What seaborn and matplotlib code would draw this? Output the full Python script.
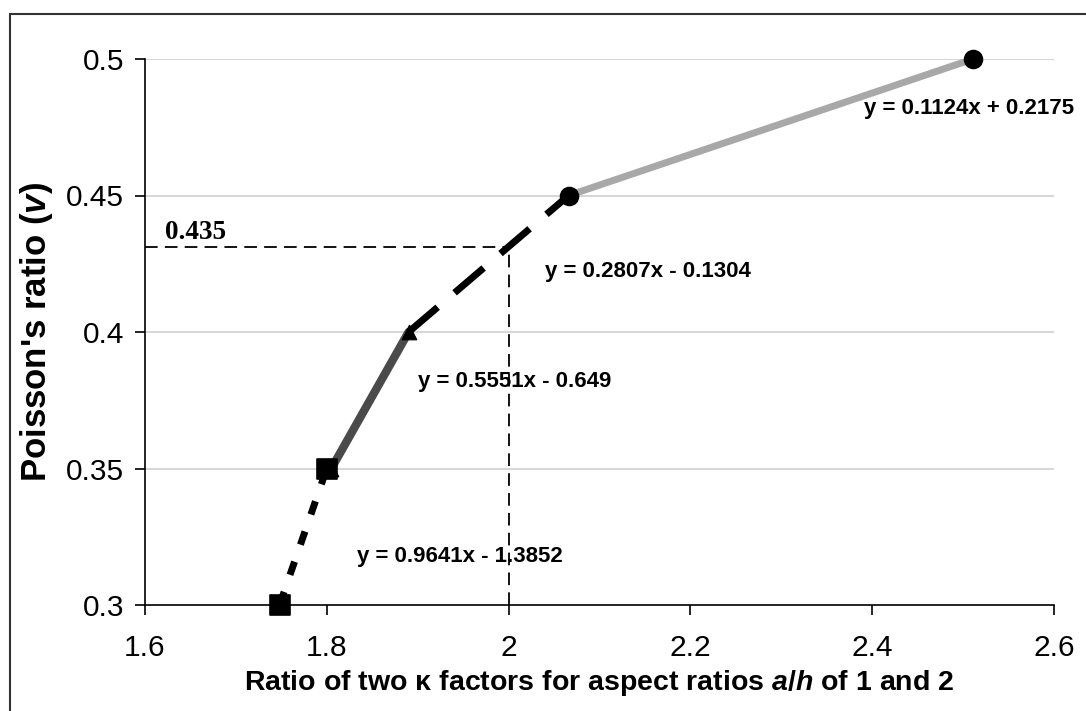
import matplotlib
matplotlib.use("Agg")
import matplotlib.pyplot as plt
import seaborn as sns
from matplotlib.patches import Rectangle

# ---- data ----
sq_x = [1.748, 1.800]
sq_y = [0.30, 0.35]
tri_x = [1.805, 1.890]
tri_y = [0.35, 0.40]
dash_x = [1.890, 2.066]
dash_y = [0.40, 0.45]
circ_x = [2.066, 2.511]
circ_y = [0.45, 0.50]

equations = ["y = 0.1124x + 0.2175", "y = 0.2807x - 0.1304",
             "y = 0.5551x - 0.649", "y = 0.9641x - 1.3852"]
eq_x = [2.391, 2.040, 1.900, 1.833]
eq_y = [0.482, 0.422, 0.382, 0.3176]

ref_x = 2.0
ref_y = 0.4311
ref_label = "0.435"

x_ticks = [1.6, 1.8, 2.0, 2.2, 2.4, 2.6]
x_tick_labels = ["1.6", "1.8", "2", "2.2", "2.4", "2.6"]
y_ticks = [0.3, 0.35, 0.4, 0.45, 0.5]
y_tick_labels = ["0.3", "0.35", "0.4", "0.45", "0.5"]

# ---- style ----
sns.set_style("white")
plt.rcParams['font.family'] = ['Liberation Sans', 'DejaVu Sans']
plt.rcParams['mathtext.fontset'] = 'custom'
plt.rcParams['mathtext.it'] = 'Liberation Sans:italic:bold'
plt.rcParams['mathtext.rm'] = 'Liberation Sans:bold'
plt.rcParams['mathtext.bf'] = 'Liberation Sans:bold'
for k in ['text.color', 'axes.labelcolor', 'xtick.color', 'ytick.color']:
    plt.rcParams[k] = 'black'

fig = plt.figure(figsize=(10.86, 7.11), dpi=100)
ax = fig.add_axes([145/1086, 1-605/711, (1054-145)/1086, (605-59)/711])

# gridlines
for yt in y_ticks[1:]:
    ax.axhline(yt, color="#cfcfcf", lw=1.2, zorder=0)

# reference dashed lines
sns.lineplot(x=[1.6, ref_x], y=[ref_y, ref_y], ax=ax, color="black",
             linewidth=1.3, linestyle=(0, (7, 4)), estimator=None,
             sort=False, zorder=2)
sns.lineplot(x=[ref_x, ref_x], y=[0.3, ref_y], ax=ax, color="black",
             linewidth=1.3, linestyle=(0, (7, 4)), estimator=None,
             sort=False, zorder=2)

# series lines
sns.lineplot(x=sq_x, y=sq_y, ax=ax, color="black", linewidth=5,
             linestyle=(0, (2, 2.6)), estimator=None, zorder=3)
sns.lineplot(x=tri_x, y=tri_y, ax=ax, color="#4a4a4a", linewidth=6,
             estimator=None, zorder=3)
sns.lineplot(x=dash_x, y=dash_y, ax=ax, color="black", linewidth=5,
             linestyle=(0, (5.5, 3.2)), estimator=None, zorder=3)
sns.lineplot(x=circ_x, y=circ_y, ax=ax, color="#a8a8a8", linewidth=5,
             estimator=None, zorder=3)

# markers
sns.scatterplot(x=sq_x, y=sq_y, ax=ax, marker="s", s=220, color="black",
                edgecolor="black", zorder=4, clip_on=False)
sns.scatterplot(x=tri_x, y=tri_y, ax=ax, marker="^", s=110, color="black",
                edgecolor="black", zorder=4, clip_on=False)
sns.scatterplot(x=circ_x, y=circ_y, ax=ax, marker="o", s=170, color="black",
                edgecolor="black", zorder=4, clip_on=False)

# equation labels
for t, xx, yy in zip(equations, eq_x, eq_y):
    ax.text(xx, yy, t, fontsize=16, fontweight="bold", ha="left",
            va="center", color="black", zorder=5)

ax.text(1.622, 0.4366, ref_label, fontsize=19.5, fontweight="bold",
        family="Liberation Serif", ha="left", va="center", zorder=5)

ax.set_xlim(1.6, 2.6)
ax.set_ylim(0.3, 0.5)
ax.set_xticks(x_ticks)
ax.set_xticklabels(x_tick_labels, fontsize=21.5)
ax.set_yticks(y_ticks)
ax.set_yticklabels(y_tick_labels, fontsize=21.5)
ax.tick_params(axis="both", direction="out", length=7, width=1.2,
               color="black", labelcolor="black", left=True, bottom=True)
ax.tick_params(axis="x", pad=14)
ax.tick_params(axis="y", pad=8)

for s in ["top", "right"]:
    ax.spines[s].set_visible(False)
for s in ["left", "bottom"]:
    ax.spines[s].set_color("black")
    ax.spines[s].set_linewidth(1.2)

ax.set_xlabel(r"Ratio of two κ factors for aspect ratios $a/h$ of 1 and 2",
              fontsize=20.5, fontweight="bold", labelpad=4, color="black")
ax.set_ylabel(r"Poisson's ratio ($v$)", fontsize=25,
              fontweight="bold", labelpad=8, color="black")

# figure frame
fig.patches.append(Rectangle((10/1086, -0.05), 1.2, 1-14/711+0.05,
                             transform=fig.transFigure, fill=False,
                             edgecolor="#333333", linewidth=1.5))

fig.savefig("out.png", dpi=100)
